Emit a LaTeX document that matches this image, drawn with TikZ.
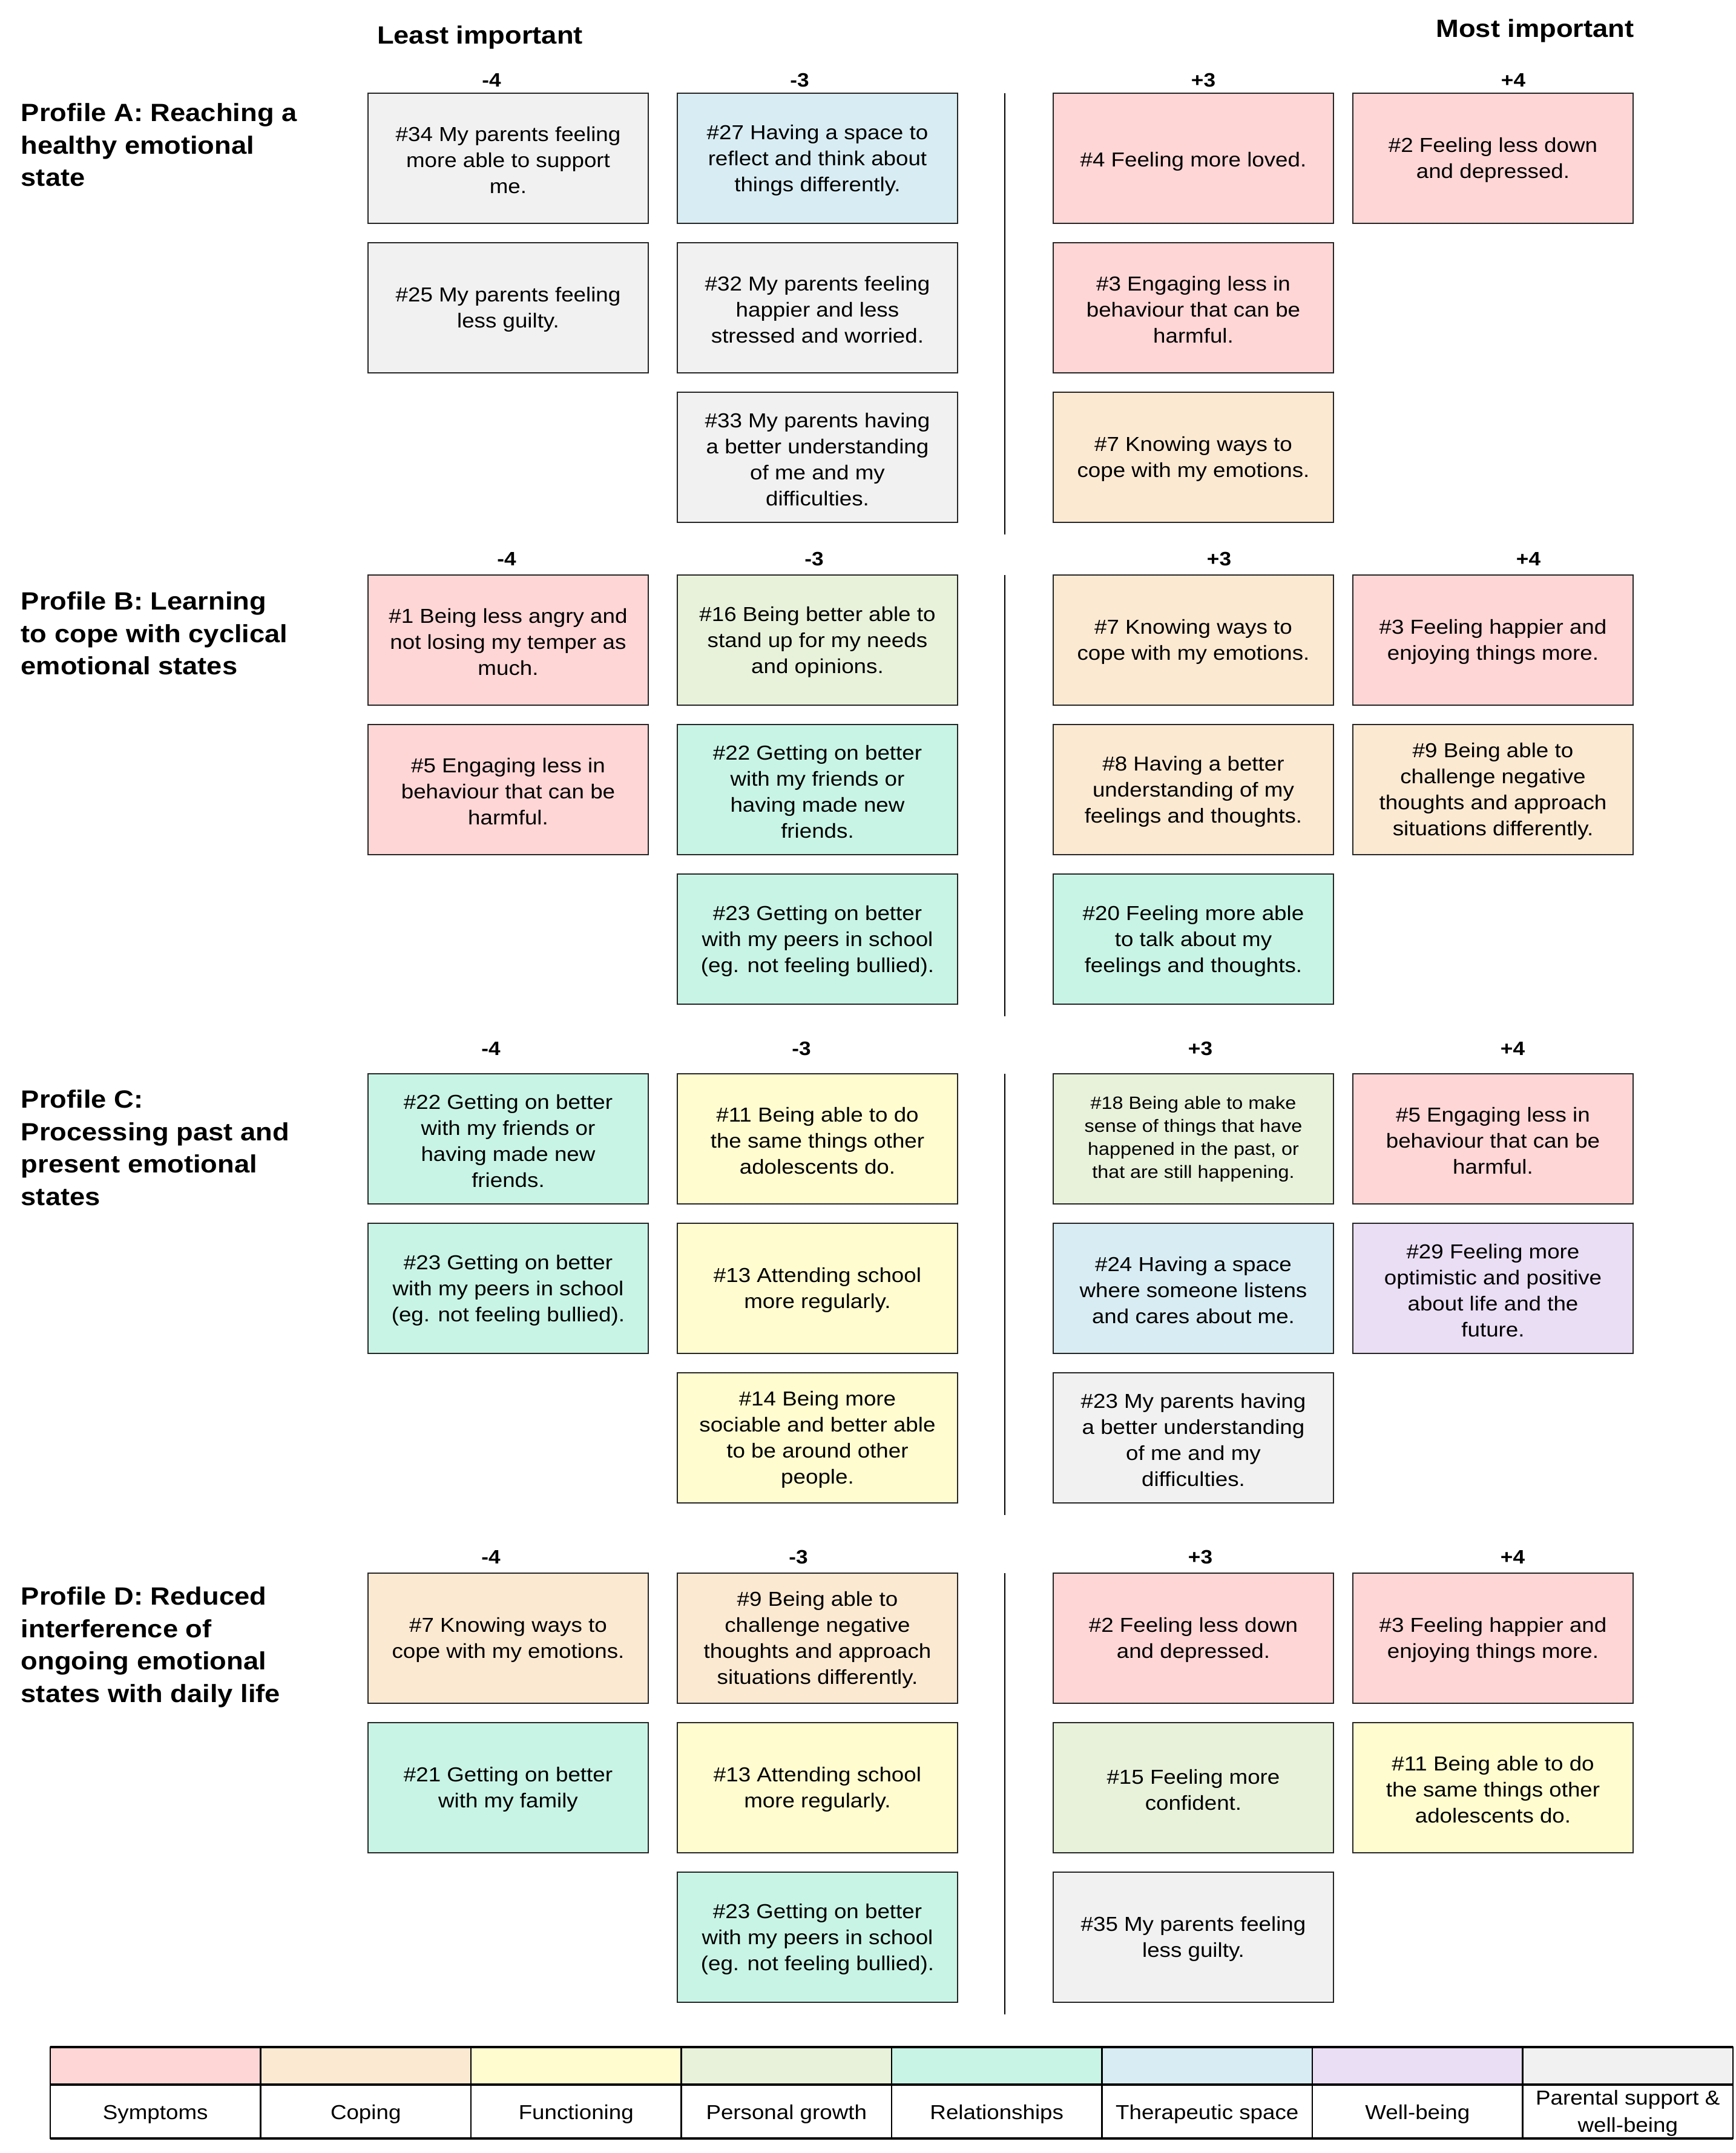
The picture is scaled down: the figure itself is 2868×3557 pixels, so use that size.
\documentclass[tikz,border=0pt]{standalone}
\usepackage{fontspec}
\setmainfont{Liberation Sans}[FakeStretch=1.1]

% category colours
\definecolor{cSym}{HTML}{FFD6D6}
\definecolor{cCop}{HTML}{FCE9D2}
\definecolor{cFun}{HTML}{FFFCD0}
\definecolor{cPgr}{HTML}{E8F2DB}
\definecolor{cRel}{HTML}{C8F4E6}
\definecolor{cThr}{HTML}{D8EDF3}
\definecolor{cWel}{HTML}{EADEF4}
\definecolor{cPar}{HTML}{F1F1F1}

% column left edges
\def\cm{608}
\def\cn{1119}
\def\cp{1740}
\def\cq{2235}

% a card; the invisible rule lowers the text block slightly inside the box
\newcommand\card[5]{\node[#1] (#2) at (#3,#4) {\rule{0pt}{7.6pt}#5};}

\begin{document}
\begin{tikzpicture}[x=0.25pt,y=-0.25pt,
  card/.style={draw=black!85, line width=0.4pt, anchor=north west,
    minimum width=115.75pt, minimum height=53.75pt, inner sep=0pt, outer sep=0pt,
    align=center, font=\fontsize{8.35}{10.75}\selectfont},
  sym/.style={card, fill=cSym},
  cop/.style={card, fill=cCop},
  fun/.style={card, fill=cFun},
  pgr/.style={card, fill=cPgr},
  rel/.style={card, fill=cRel},
  thr/.style={card, fill=cThr},
  wel/.style={card, fill=cWel},
  par/.style={card, fill=cPar},
  small/.style={font=\fontsize{7.35}{9.5}\selectfont},
  colnum/.style={inner sep=0pt, font=\bfseries\fontsize{8}{9.6}\selectfont},
  heading/.style={inner sep=0pt, anchor=base, font=\bfseries\fontsize{10.3}{12.4}\selectfont},
  proflabel/.style={anchor=north west, align=left, inner sep=0pt,
    font=\bfseries\fontsize{10.3}{13.4}\selectfont},
  divider/.style={line width=0.5pt, black},
  swatch/.style={draw=black, line width=0.6pt, anchor=north west,
    minimum width=86.875pt, minimum height=15.5pt, inner sep=0pt, outer sep=0pt},
  legtext/.style={draw=black, line width=0.6pt, anchor=north west,
    minimum width=86.875pt, minimum height=22.25pt, inner sep=0pt, outer sep=0pt,
    align=center, font=\fontsize{8.35}{11.3}\selectfont,
    execute at begin node={\rule{0pt}{8.1pt}}}
]
\useasboundingbox (0,0) rectangle (2868,3557);

% headings
\node[heading] (least) at (793,72) {Least important};
\node[heading] (most) at (2536,61) {Most important};

% ---------------- Profile A ----------------
\node[proflabel] (profA) at (34,170) {Profile A: Reaching a\\healthy emotional\\state};
\node[colnum] (hAm4) at (812,132) {-4};
\node[colnum] (hAm3) at (1321,132) {-3};
\node[colnum] (hAp3) at (1988,132) {+3};
\node[colnum] (hAp4) at (2500,132) {+4};
\card{par}{Am4r1}{\cm}{154}{\#34 My parents feeling\\more able to support\\me.}
\card{par}{Am4r2}{\cm}{401}{\#25 My parents feeling\\less guilty.}
\card{thr}{Am3r1}{\cn}{154}{\#27 Having a space to\\reflect and think about\\things differently.}
\card{par}{Am3r2}{\cn}{401}{\#32 My parents feeling\\happier and less\\stressed and worried.}
\card{par}{Am3r3}{\cn}{648}{\#33 My parents having\\a better understanding\\of me and my\\difficulties.}
\node[sym] (Ap3r1) at (\cp,154) {\rule{0pt}{8.6pt}\#4 Feeling more loved.};
\card{sym}{Ap3r2}{\cp}{401}{\#3 Engaging less in\\behaviour that can be\\harmful.}
\card{cop}{Ap3r3}{\cp}{648}{\#7 Knowing ways to\\cope with my emotions.}
\card{sym}{Ap4r1}{\cq}{154}{\#2 Feeling less down\\and depressed.}
\coordinate (Atop) at (1660,154);
\coordinate (Abot) at (1660,883);
\draw[divider] (Atop) -- (Abot);

% ---------------- Profile B ----------------
\node[proflabel] (profB) at (34,977) {Profile B: Learning\\to cope with cyclical\\emotional states};
\node[colnum] (hBm4) at (837,923) {-4};
\node[colnum] (hBm3) at (1345,923) {-3};
\node[colnum] (hBp3) at (2014,923) {+3};
\node[colnum] (hBp4) at (2525,923) {+4};
\card{sym}{Bm4r1}{\cm}{950}{\#1 Being less angry and\\not losing my temper as\\much.}
\card{sym}{Bm4r2}{\cm}{1197}{\#5 Engaging less in\\behaviour that can be\\harmful.}
\card{pgr}{Bm3r1}{\cn}{950}{\#16 Being better able to\\stand up for my needs\\and opinions.}
\card{rel}{Bm3r2}{\cn}{1197}{\#22 Getting on better\\with my friends or\\having made new\\friends.}
\card{rel}{Bm3r3}{\cn}{1444}{\#23 Getting on better\\with my peers in school\\(eg. not feeling bullied).}
\card{cop}{Bp3r1}{\cp}{950}{\#7 Knowing ways to\\cope with my emotions.}
\card{cop}{Bp3r2}{\cp}{1197}{\#8 Having a better\\understanding of my\\feelings and thoughts.}
\card{rel}{Bp3r3}{\cp}{1444}{\#20 Feeling more able\\to talk about my\\feelings and thoughts.}
\card{sym}{Bp4r1}{\cq}{950}{\#3 Feeling happier and\\enjoying things more.}
\card{cop}{Bp4r2}{\cq}{1197}{\#9 Being able to\\challenge negative\\thoughts and approach\\situations differently.}
\coordinate (Btop) at (1660,950);
\coordinate (Bbot) at (1660,1679);
\draw[divider] (Btop) -- (Bbot);

% ---------------- Profile C ----------------
\node[proflabel] (profC) at (34,1800) {Profile C:\\Processing past and\\present emotional\\states};
\node[colnum] (hCm4) at (811,1732) {-4};
\node[colnum] (hCm3) at (1324,1732) {-3};
\node[colnum] (hCp3) at (1983,1732) {+3};
\node[colnum] (hCp4) at (2499,1732) {+4};
\card{rel}{Cm4r1}{\cm}{1774}{\#22 Getting on better\\with my friends or\\having made new\\friends.}
\card{rel}{Cm4r2}{\cm}{2021}{\#23 Getting on better\\with my peers in school\\(eg. not feeling bullied).}
\card{fun}{Cm3r1}{\cn}{1774}{\#11 Being able to do\\the same things other\\adolescents do.}
\card{fun}{Cm3r2}{\cn}{2021}{\#13 Attending school\\more regularly.}
\card{fun}{Cm3r3}{\cn}{2268}{\#14 Being more\\sociable and better able\\to be around other\\people.}
\node[pgr,small] (Cp3r1) at (\cp,1774) {\#18 Being able to make\\sense of things that have\\happened in the past, or\\that are still happening.};
\card{thr}{Cp3r2}{\cp}{2021}{\#24 Having a space\\where someone listens\\and cares about me.}
\card{par}{Cp3r3}{\cp}{2268}{\#23 My parents having\\a better understanding\\of me and my\\difficulties.}
\card{sym}{Cp4r1}{\cq}{1774}{\#5 Engaging less in\\behaviour that can be\\harmful.}
\card{wel}{Cp4r2}{\cq}{2021}{\#29 Feeling more\\optimistic and positive\\about life and the\\future.}
\coordinate (Ctop) at (1660,1774);
\coordinate (Cbot) at (1660,2503);
\draw[divider] (Ctop) -- (Cbot);

% ---------------- Profile D ----------------
\node[proflabel] (profD) at (34,2621) {Profile D: Reduced\\interference of\\ongoing emotional\\states with daily life};
\node[colnum] (hDm4) at (811,2572) {-4};
\node[colnum] (hDm3) at (1319,2572) {-3};
\node[colnum] (hDp3) at (1983,2572) {+3};
\node[colnum] (hDp4) at (2499,2572) {+4};
\card{cop}{Dm4r1}{\cm}{2599}{\#7 Knowing ways to\\cope with my emotions.}
\card{rel}{Dm4r2}{\cm}{2846}{\#21 Getting on better\\with my family}
\card{cop}{Dm3r1}{\cn}{2599}{\#9 Being able to\\challenge negative\\thoughts and approach\\situations differently.}
\card{fun}{Dm3r2}{\cn}{2846}{\#13 Attending school\\more regularly.}
\card{rel}{Dm3r3}{\cn}{3093}{\#23 Getting on better\\with my peers in school\\(eg. not feeling bullied).}
\card{sym}{Dp3r1}{\cp}{2599}{\#2 Feeling less down\\and depressed.}
\card{pgr}{Dp3r2}{\cp}{2846}{\#15 Feeling more\\confident.}
\card{par}{Dp3r3}{\cp}{3093}{\#35 My parents feeling\\less guilty.}
\card{sym}{Dp4r1}{\cq}{2599}{\#3 Feeling happier and\\enjoying things more.}
\card{fun}{Dp4r2}{\cq}{2846}{\#11 Being able to do\\the same things other\\adolescents do.}
\coordinate (Dtop) at (1660,2599);
\coordinate (Dbot) at (1660,3328);
\draw[divider] (Dtop) -- (Dbot);

% ---------------- legend ----------------
\foreach \i/\col/\lab in {0/cSym/Symptoms, 1/cCop/Coping, 2/cFun/Functioning,
    3/cPgr/Personal growth, 4/cRel/Relationships, 5/cThr/Therapeutic space,
    6/cWel/Well-being, 7/cPar/{\rule{0pt}{7.3pt}Parental support \&\\well-being}} {
  \node[swatch, fill=\col] (sw\i) at ({83+\i*347.5},3382) {};
  \node[legtext] (lt\i) at ({83+\i*347.5},3444) {\lab};
}
\draw[line width=1pt] (sw0.north west) -- (sw7.north east);
\draw[line width=1pt] (sw0.south west) -- (sw7.south east);
\draw[line width=1pt] (lt0.south west) -- (lt7.south east);
\end{tikzpicture}
\end{document}
